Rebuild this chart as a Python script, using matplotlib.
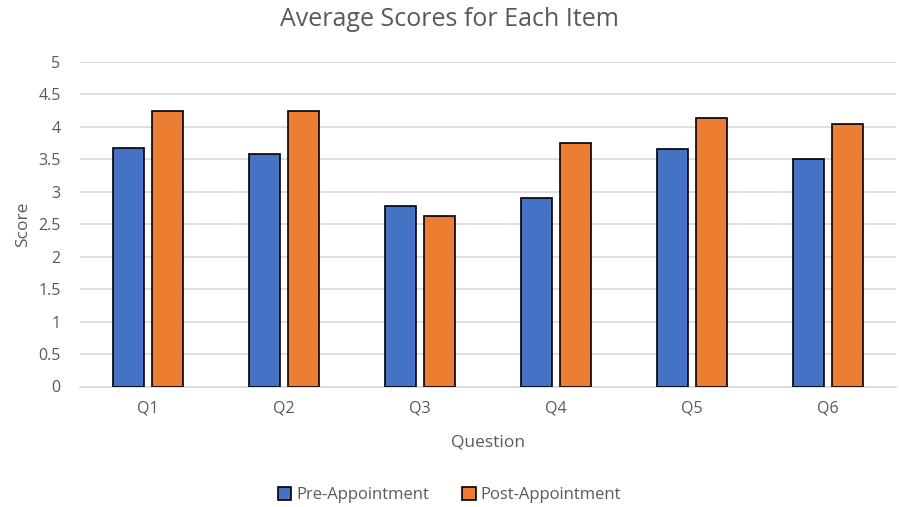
import numpy as np
import matplotlib.pyplot as plt

questions = ["Q1", "Q2", "Q3", "Q4", "Q5", "Q6"]
pre_scores = [3.67, 3.58, 2.78, 2.91, 3.66, 3.50]
post_scores = [4.25, 4.25, 2.63, 3.75, 4.13, 4.05]
y_ticks = [0, 0.5, 1, 1.5, 2, 2.5, 3, 3.5, 4, 4.5, 5]

text_color = "#595959"
plt.rcParams["font.family"] = ["Open Sans", "DejaVu Sans"]

fig = plt.figure(figsize=(8.99, 5.07), dpi=100)
ax = fig.add_axes([80 / 899, 1 - 386.5 / 507, 816 / 899, 324.5 / 507])

x = np.arange(len(questions))
width = 0.228
offset = 0.143
ax.bar(x - offset, pre_scores, width, color="#4472C4", edgecolor="black",
       linewidth=1.2, label="Pre-Appointment", zorder=3)
ax.bar(x + offset, post_scores, width, color="#ED7D31", edgecolor="black",
       linewidth=1.2, label="Post-Appointment", zorder=3)

ax.set_xlim(-0.5, len(questions) - 0.5)
ax.set_ylim(0, 5)
ax.set_yticks(y_ticks)
ax.set_yticklabels([f"{t:g}" for t in y_ticks])
ax.set_xticks(x)
ax.set_xticklabels(questions)
ax.tick_params(axis="both", length=0, colors=text_color, labelsize=11.5)
ax.tick_params(axis="y", pad=14)
ax.tick_params(axis="x", pad=10)
ax.grid(axis="y", color="#D9D9D9", linewidth=1.2, zorder=0)
for side in ["top", "right", "left"]:
    ax.spines[side].set_visible(False)
ax.spines["bottom"].set_color("#D9D9D9")
ax.spines["bottom"].set_linewidth(1.2)

ax.set_xlabel("Question", color=text_color, fontsize=12.5, labelpad=13)
ax.set_ylabel("Score", color=text_color, fontsize=12.5, labelpad=5)
fig.text(0.5, 1 - 20 / 507, "Average Scores for Each Item", ha="center", va="center",
         color=text_color, fontsize=18)

fig.legend(loc="center", bbox_to_anchor=(0.5, 1 - 495 / 507), ncol=2, frameon=False,
           fontsize=12, labelcolor=text_color, handlelength=0.8, handleheight=0.8,
           handletextpad=0.3, columnspacing=2.0)

fig.savefig("out.png", dpi=100)
